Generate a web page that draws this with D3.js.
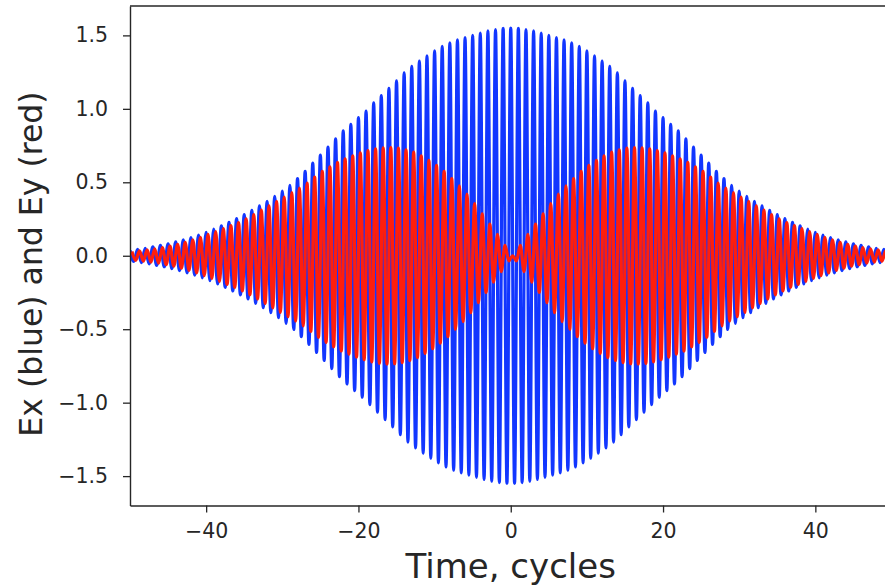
<!DOCTYPE html>
<html>
<head>
<meta charset="utf-8">
<script src="https://cdn.jsdelivr.net/npm/d3@7"></script>
<style>
  html, body { margin: 0; padding: 0; background: #ffffff; }
  svg { display: block; }
</style>
</head>
<body>
<svg id="chart" width="885" height="587"></svg>
<script>
// Tick values for both axes
const xTicks = [-40, -20, 0, 20, 40];
const yTicks = [-1.5, -1.0, -0.5, 0.0, 0.5, 1.0, 1.5];

// Ex envelope: field extreme magnitude at every half cycle, t = -50 ... 50
const exEnvelope = [
  0.036,0.039,0.043,0.047,0.051,0.055,0.060,0.065,0.070,0.075,
  0.081,0.087,0.094,0.101,0.108,0.116,0.124,0.132,0.141,0.150,
  0.160,0.170,0.181,0.192,0.203,0.215,0.227,0.240,0.253,0.266,
  0.280,0.294,0.309,0.324,0.339,0.354,0.370,0.387,0.404,0.422,
  0.440,0.460,0.480,0.502,0.525,0.550,0.575,0.603,0.630,0.658,
  0.685,0.713,0.740,0.768,0.795,0.823,0.850,0.873,0.895,0.918,
  0.940,0.963,0.985,1.013,1.040,1.065,1.090,1.115,1.140,1.165,
  1.190,1.218,1.245,1.268,1.290,1.308,1.325,1.343,1.360,1.378,
  1.395,1.410,1.425,1.438,1.450,1.460,1.470,1.478,1.485,1.493,
  1.500,1.508,1.515,1.523,1.530,1.535,1.540,1.544,1.548,1.549,
  1.550,
  1.549,1.548,1.544,1.540,1.535,1.530,1.523,1.515,1.508,1.500,
  1.493,1.485,1.478,1.470,1.460,1.450,1.438,1.425,1.410,1.395,
  1.378,1.360,1.343,1.325,1.308,1.290,1.268,1.245,1.218,1.190,
  1.165,1.140,1.115,1.090,1.065,1.040,1.013,0.985,0.963,0.940,
  0.918,0.895,0.873,0.850,0.823,0.795,0.768,0.740,0.713,0.685,
  0.658,0.630,0.603,0.575,0.550,0.525,0.502,0.480,0.460,0.440,
  0.422,0.404,0.387,0.370,0.354,0.339,0.324,0.309,0.294,0.280,
  0.266,0.253,0.240,0.227,0.215,0.203,0.192,0.181,0.170,0.160,
  0.150,0.141,0.132,0.124,0.116,0.108,0.101,0.094,0.087,0.081,
  0.075,0.070,0.065,0.060,0.055,0.051,0.047,0.043,0.039,0.036
];

// Ey envelope: field extreme magnitude at every half cycle, t = -50 ... 50
const eyEnvelope = [
  0.029,0.031,0.034,0.037,0.040,0.043,0.047,0.051,0.055,0.060,
  0.065,0.071,0.078,0.085,0.092,0.100,0.108,0.117,0.126,0.135,
  0.145,0.155,0.165,0.175,0.185,0.195,0.205,0.215,0.226,0.239,
  0.252,0.266,0.280,0.295,0.310,0.325,0.340,0.355,0.370,0.385,
  0.400,0.415,0.430,0.445,0.460,0.477,0.495,0.515,0.535,0.555,
  0.575,0.590,0.605,0.620,0.635,0.648,0.660,0.670,0.680,0.690,
  0.700,0.708,0.715,0.722,0.728,0.732,0.735,0.737,0.737,0.735,
  0.732,0.727,0.720,0.713,0.705,0.693,0.680,0.665,0.650,0.633,
  0.615,0.595,0.575,0.550,0.525,0.500,0.475,0.448,0.420,0.388,
  0.355,0.320,0.285,0.250,0.215,0.180,0.145,0.108,0.070,0.035,
  0.000,
  0.035,0.070,0.108,0.145,0.180,0.215,0.250,0.285,0.320,0.355,
  0.388,0.420,0.448,0.475,0.500,0.525,0.550,0.575,0.595,0.615,
  0.633,0.650,0.665,0.680,0.693,0.705,0.713,0.720,0.727,0.732,
  0.735,0.737,0.737,0.735,0.732,0.728,0.722,0.715,0.708,0.700,
  0.690,0.680,0.670,0.660,0.648,0.635,0.620,0.605,0.590,0.575,
  0.555,0.535,0.515,0.495,0.477,0.460,0.445,0.430,0.415,0.400,
  0.385,0.370,0.355,0.340,0.325,0.310,0.295,0.280,0.266,0.252,
  0.239,0.226,0.215,0.205,0.195,0.185,0.175,0.165,0.155,0.145,
  0.135,0.126,0.117,0.108,0.100,0.092,0.085,0.078,0.071,0.065,
  0.060,0.055,0.051,0.047,0.043,0.040,0.037,0.034,0.031,0.029
];

// Time axis in cycles, one entry per half cycle
const halfCycleTimes = d3.range(exEnvelope.length).map(i => -50 + i * 0.5);
// Ey carrier lags Ex by a quarter cycle
const eyPhaseShift = 0.25;

const svg = d3.select("#chart");
const plot = { left: 130, right: 891.5, top: 6, bottom: 505.5 };
const textColor = "#262626";
const fontFamily = "'DejaVu Sans', sans-serif";

const x = d3.scaleLinear().domain([-50, 50]).range([plot.left, plot.right]);
const y = d3.scaleLinear().domain([-1.70, 1.70]).range([plot.bottom, plot.top]);

svg.append("defs").append("clipPath").attr("id", "plot-clip")
  .append("rect")
  .attr("x", plot.left).attr("y", plot.top)
  .attr("width", plot.right - plot.left).attr("height", plot.bottom - plot.top);

// Alternate signs between successive half-cycle extremes
const exPoints = halfCycleTimes.map((t, i) => ({ t, v: (i % 2 === 0 ? 1 : -1) * exEnvelope[i] }));
const eyPoints = halfCycleTimes.map((t, i) => ({ t: t + eyPhaseShift, v: (i % 2 === 0 ? 1 : -1) * eyEnvelope[i] }));

const line = d3.line()
  .x(d => x(d.t))
  .y(d => y(d.v))
  .curve(d3.curveMonotoneX);

const traces = svg.append("g").attr("clip-path", "url(#plot-clip)");
traces.append("path")
  .datum(exPoints)
  .attr("d", line)
  .attr("fill", "none")
  .attr("stroke", "#1236ff")
  .attr("stroke-width", 3.2)
  .attr("stroke-linejoin", "round");
traces.append("path")
  .datum(eyPoints)
  .attr("d", line)
  .attr("fill", "none")
  .attr("stroke", "#ff1e0c")
  .attr("stroke-width", 3.2)
  .attr("stroke-linejoin", "round");

const minus = s => s.replace("-", "\u2212");

// Bottom axis
const xAxis = svg.append("g")
  .attr("transform", `translate(0,${plot.bottom})`)
  .call(d3.axisBottom(x).tickValues(xTicks).tickSize(7).tickSizeOuter(0).tickPadding(11)
    .tickFormat(d => minus(String(d))));

// Left axis
const yAxis = svg.append("g")
  .attr("transform", `translate(${plot.left},0)`)
  .call(d3.axisLeft(y).tickValues(yTicks).tickSize(7).tickSizeOuter(0).tickPadding(15)
    .tickFormat(d => minus(d.toFixed(1))));

[xAxis, yAxis].forEach(g => {
  g.selectAll(".domain").attr("stroke", textColor).attr("stroke-width", 1.4);
  g.selectAll(".tick line").attr("stroke", textColor).attr("stroke-width", 1.3);
  g.selectAll(".tick text")
    .attr("fill", textColor)
    .style("font-family", fontFamily)
    .style("font-size", "20.5px");
});

// Top spine
svg.append("line")
  .attr("x1", plot.left).attr("x2", plot.right)
  .attr("y1", plot.top).attr("y2", plot.top)
  .attr("stroke", textColor).attr("stroke-width", 1.4);

// Axis titles
svg.append("text")
  .attr("x", (plot.left + plot.right) / 2)
  .attr("y", 578)
  .attr("text-anchor", "middle")
  .attr("fill", textColor)
  .style("font-family", fontFamily)
  .style("font-size", "34px")
  .text("Time, cycles");

svg.append("text")
  .attr("transform", "translate(42,264) rotate(-90)")
  .attr("text-anchor", "middle")
  .attr("fill", textColor)
  .style("font-family", fontFamily)
  .style("font-size", "31.5px")
  .text("Ex (blue) and Ey (red)");
</script>
</body>
</html>
